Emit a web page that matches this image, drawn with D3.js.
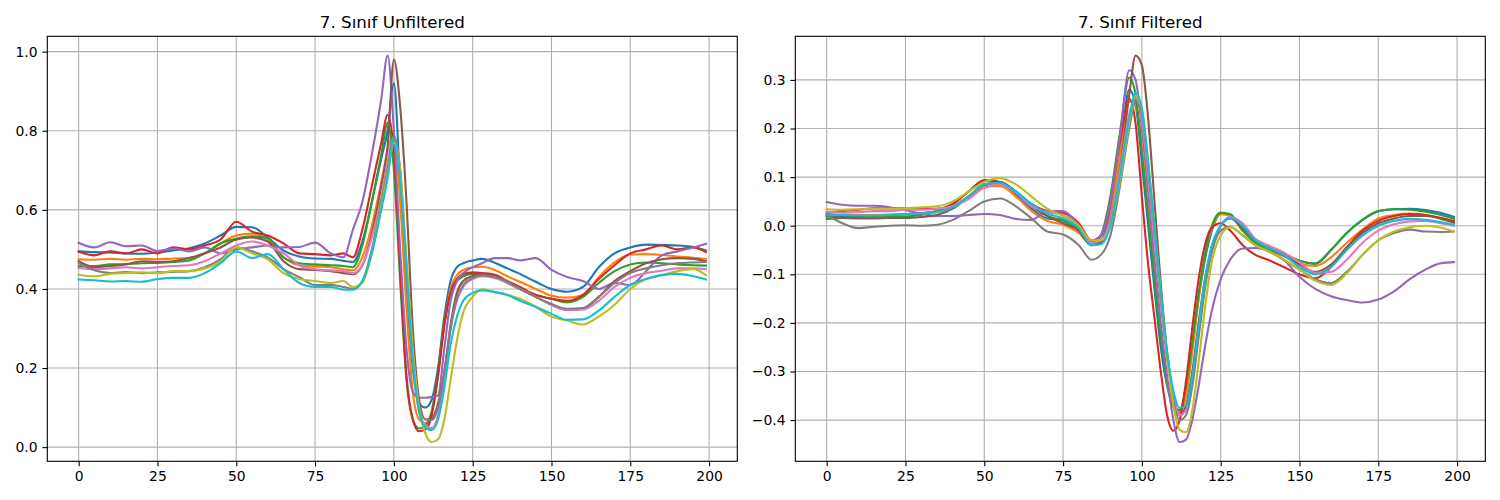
<!DOCTYPE html>
<html>
<head>
<meta charset="utf-8">
<script src="https://cdn.jsdelivr.net/npm/d3@7"></script>
<style>
  body { margin: 0; background: #fff; }
  svg { font-family: "DejaVu Sans", sans-serif; }
</style>
</head>
<body>
<svg id="chart" width="1500" height="500"></svg>
<script>
var samples = [0,5,10,15,20,25,30,35,40,45,50,55,60,65,70,75,80,84,87,90,93,96,98,100,102,104,106,108,110,112,114,116,118,120,122,125,128,132,136,140,145,150,155,160,165,170,175,180,185,190,195,199];

var xTicks = [0, 25, 50, 75, 100, 125, 150, 175, 200];
var unfTicks = [0.0, 0.2, 0.4, 0.6, 0.8, 1.0];
var filtTicks = [-0.4, -0.3, -0.2, -0.1, 0.0, 0.1, 0.2, 0.3];
var titles = ["7. Sınıf Unfiltered", "7. Sınıf Filtered"];
var colors = ["#1f77b4","#ff7f0e","#2ca02c","#d62728","#9467bd","#8c564b","#e377c2","#7f7f7f","#bcbd22","#17becf"];

// unfiltered beats
var unf1 = [0.495,0.493,0.492,0.490,0.489,0.492,0.497,0.503,0.515,0.535,0.557,0.556,0.530,0.497,0.482,0.477,0.476,0.471,0.468,0.52,0.62,0.73,0.80,0.92,0.66,0.40,0.20,0.11,0.10,0.12,0.20,0.33,0.42,0.455,0.465,0.472,0.476,0.466,0.452,0.438,0.418,0.400,0.393,0.405,0.455,0.490,0.505,0.512,0.511,0.510,0.506,0.497];
var unf2 = [0.475,0.474,0.476,0.474,0.476,0.475,0.477,0.478,0.49,0.515,0.535,0.54,0.525,0.48,0.46,0.457,0.455,0.45,0.447,0.48,0.56,0.67,0.75,0.79,0.62,0.35,0.14,0.07,0.06,0.09,0.18,0.31,0.40,0.435,0.448,0.455,0.456,0.448,0.432,0.418,0.40,0.383,0.378,0.385,0.43,0.467,0.487,0.488,0.486,0.482,0.479,0.476];
var unf3 = [0.457,0.458,0.462,0.463,0.465,0.466,0.468,0.472,0.49,0.515,0.527,0.533,0.528,0.48,0.465,0.462,0.46,0.458,0.455,0.51,0.62,0.74,0.82,0.70,0.42,0.17,0.07,0.047,0.055,0.09,0.19,0.31,0.39,0.42,0.432,0.438,0.436,0.43,0.415,0.40,0.385,0.375,0.366,0.38,0.415,0.445,0.462,0.467,0.465,0.462,0.46,0.459];
var unf4 = [0.494,0.485,0.495,0.49,0.50,0.49,0.505,0.50,0.51,0.525,0.57,0.545,0.535,0.515,0.49,0.488,0.485,0.49,0.48,0.55,0.66,0.77,0.84,0.75,0.45,0.18,0.07,0.04,0.045,0.08,0.18,0.31,0.39,0.425,0.438,0.442,0.44,0.436,0.42,0.405,0.385,0.375,0.37,0.385,0.425,0.46,0.49,0.50,0.51,0.50,0.505,0.493];
var unf5 = [0.517,0.505,0.518,0.508,0.51,0.496,0.502,0.495,0.505,0.49,0.50,0.505,0.51,0.505,0.506,0.517,0.49,0.48,0.55,0.62,0.74,0.88,0.99,0.80,0.50,0.25,0.14,0.125,0.125,0.127,0.13,0.25,0.37,0.42,0.44,0.455,0.465,0.478,0.478,0.472,0.478,0.448,0.43,0.42,0.40,0.415,0.41,0.445,0.485,0.495,0.505,0.514];
var unf6 = [0.47,0.455,0.458,0.462,0.47,0.468,0.47,0.478,0.49,0.505,0.525,0.53,0.52,0.47,0.45,0.448,0.445,0.44,0.437,0.46,0.54,0.66,0.76,0.98,0.86,0.62,0.30,0.12,0.07,0.072,0.11,0.19,0.31,0.39,0.42,0.433,0.438,0.432,0.418,0.40,0.38,0.36,0.347,0.35,0.38,0.42,0.445,0.465,0.475,0.478,0.476,0.47];
var unf7 = [0.453,0.45,0.452,0.455,0.452,0.455,0.458,0.46,0.47,0.49,0.51,0.52,0.51,0.49,0.46,0.45,0.447,0.445,0.44,0.46,0.53,0.63,0.72,0.785,0.70,0.45,0.22,0.09,0.055,0.048,0.08,0.18,0.30,0.37,0.405,0.425,0.432,0.428,0.415,0.40,0.38,0.36,0.347,0.348,0.37,0.405,0.428,0.44,0.446,0.452,0.452,0.45];
var unf8 = [0.465,0.447,0.44,0.443,0.44,0.442,0.443,0.445,0.455,0.475,0.505,0.495,0.48,0.45,0.43,0.41,0.41,0.405,0.40,0.42,0.50,0.62,0.70,0.785,0.70,0.45,0.22,0.10,0.07,0.068,0.10,0.19,0.30,0.375,0.41,0.428,0.434,0.43,0.418,0.40,0.38,0.362,0.35,0.352,0.38,0.415,0.44,0.452,0.46,0.465,0.467,0.468];
var unf9 = [0.436,0.432,0.438,0.44,0.442,0.44,0.445,0.445,0.452,0.47,0.505,0.49,0.475,0.44,0.425,0.42,0.415,0.42,0.405,0.415,0.49,0.61,0.69,0.77,0.70,0.48,0.25,0.10,0.035,0.013,0.02,0.07,0.17,0.27,0.34,0.38,0.40,0.392,0.385,0.375,0.355,0.33,0.32,0.31,0.33,0.36,0.40,0.425,0.435,0.445,0.45,0.435];
var unf10 = [0.424,0.422,0.419,0.42,0.418,0.425,0.428,0.428,0.44,0.465,0.495,0.478,0.488,0.45,0.415,0.405,0.405,0.398,0.398,0.42,0.49,0.60,0.68,0.78,0.68,0.45,0.22,0.09,0.05,0.043,0.07,0.15,0.26,0.33,0.37,0.39,0.396,0.392,0.385,0.37,0.355,0.337,0.322,0.323,0.345,0.38,0.41,0.425,0.435,0.438,0.432,0.424];

// filtered beats
var filt1 = [0.021,0.02,0.02,0.021,0.022,0.024,0.026,0.03,0.04,0.06,0.083,0.087,0.065,0.035,0.015,0.012,-0.005,-0.035,-0.03,0.03,0.14,0.28,0.25,0.13,0.0,-0.13,-0.25,-0.33,-0.37,-0.38,-0.34,-0.25,-0.15,-0.07,-0.015,0.024,0.022,-0.01,-0.035,-0.045,-0.058,-0.072,-0.078,-0.05,-0.015,0.012,0.03,0.034,0.035,0.032,0.026,0.018];
var filt2 = [0.023,0.022,0.022,0.022,0.023,0.023,0.025,0.03,0.04,0.06,0.08,0.082,0.06,0.03,0.01,0.002,-0.015,-0.04,-0.035,0.02,0.14,0.255,0.25,0.16,0.03,-0.10,-0.22,-0.32,-0.375,-0.385,-0.35,-0.26,-0.15,-0.06,-0.01,0.024,0.02,-0.01,-0.035,-0.048,-0.062,-0.078,-0.083,-0.065,-0.035,-0.008,0.015,0.022,0.025,0.022,0.015,0.009];
var filt3 = [0.014,0.016,0.017,0.018,0.019,0.019,0.022,0.03,0.045,0.07,0.094,0.09,0.07,0.04,0.02,0.01,-0.01,-0.04,-0.02,0.06,0.19,0.305,0.27,0.15,0.02,-0.11,-0.23,-0.32,-0.37,-0.38,-0.33,-0.24,-0.14,-0.06,-0.005,0.027,0.024,-0.01,-0.035,-0.048,-0.06,-0.072,-0.078,-0.05,-0.015,0.012,0.03,0.034,0.033,0.029,0.022,0.014];
var filt4 = [0.026,0.03,0.033,0.036,0.036,0.036,0.035,0.035,0.045,0.07,0.093,0.09,0.07,0.045,0.03,0.026,0.005,-0.03,-0.02,0.05,0.17,0.261,0.21,0.06,-0.08,-0.19,-0.30,-0.39,-0.422,-0.40,-0.32,-0.21,-0.11,-0.04,-0.005,0.005,-0.01,-0.04,-0.06,-0.07,-0.085,-0.10,-0.108,-0.085,-0.045,-0.01,0.01,0.02,0.024,0.022,0.016,0.009];
var filt5 = [0.049,0.043,0.041,0.041,0.038,0.032,0.025,0.02,0.02,0.022,0.024,0.022,0.014,0.012,0.03,0.03,0.0,-0.032,-0.02,0.05,0.18,0.32,0.30,0.20,0.07,-0.07,-0.20,-0.31,-0.40,-0.445,-0.44,-0.40,-0.33,-0.25,-0.18,-0.11,-0.07,-0.047,-0.046,-0.052,-0.07,-0.105,-0.13,-0.145,-0.153,-0.158,-0.152,-0.135,-0.11,-0.09,-0.077,-0.075];
var filt6 = [0.019,0.016,0.015,0.015,0.016,0.016,0.018,0.022,0.035,0.06,0.085,0.09,0.07,0.04,0.02,0.005,-0.01,-0.04,-0.035,0.01,0.11,0.27,0.35,0.33,0.22,0.05,-0.12,-0.26,-0.35,-0.39,-0.37,-0.30,-0.20,-0.11,-0.05,0.0,0.015,-0.005,-0.03,-0.045,-0.062,-0.08,-0.095,-0.08,-0.045,-0.015,0.005,0.015,0.02,0.02,0.014,0.006];
var filt7 = [0.029,0.027,0.028,0.03,0.03,0.033,0.033,0.035,0.04,0.055,0.078,0.085,0.068,0.04,0.028,0.022,0.0,-0.035,-0.03,0.01,0.11,0.23,0.264,0.22,0.10,-0.03,-0.16,-0.27,-0.35,-0.39,-0.38,-0.32,-0.22,-0.12,-0.05,0.0,0.018,0.005,-0.027,-0.04,-0.055,-0.075,-0.097,-0.095,-0.07,-0.035,-0.01,0.003,0.009,0.01,0.005,0.0];
var filt8 = [0.023,0.005,-0.005,-0.002,0.0,0.001,0.0,0.002,0.012,0.03,0.05,0.056,0.04,0.015,-0.012,-0.018,-0.04,-0.07,-0.06,-0.02,0.08,0.20,0.255,0.23,0.12,-0.01,-0.15,-0.27,-0.36,-0.40,-0.39,-0.33,-0.23,-0.13,-0.06,-0.01,-0.002,-0.02,-0.04,-0.052,-0.07,-0.09,-0.11,-0.118,-0.095,-0.06,-0.03,-0.015,-0.008,-0.012,-0.013,-0.012];
var filt9 = [0.034,0.033,0.034,0.035,0.035,0.036,0.038,0.04,0.05,0.07,0.09,0.098,0.085,0.06,0.035,0.02,0.0,-0.03,-0.03,0.0,0.09,0.21,0.268,0.24,0.13,0.0,-0.14,-0.27,-0.37,-0.42,-0.425,-0.38,-0.28,-0.17,-0.08,-0.02,-0.003,-0.02,-0.04,-0.052,-0.07,-0.09,-0.113,-0.122,-0.098,-0.06,-0.03,-0.012,-0.003,0.0,-0.004,-0.012];
var filt10 = [0.023,0.022,0.021,0.021,0.022,0.024,0.025,0.028,0.038,0.06,0.085,0.088,0.07,0.045,0.025,0.015,-0.005,-0.04,-0.038,0.0,0.10,0.22,0.273,0.24,0.13,0.0,-0.14,-0.26,-0.34,-0.375,-0.37,-0.31,-0.21,-0.11,-0.045,0.0,0.016,0.0,-0.03,-0.045,-0.06,-0.085,-0.10,-0.085,-0.05,-0.02,0.0,0.01,0.014,0.012,0.007,0.002];

var unfSeries = [unf1, unf2, unf3, unf4, unf5, unf6, unf7, unf8, unf9, unf10];
var filtSeries = [filt1, filt2, filt3, filt4, filt5, filt6, filt7, filt8, filt9, filt10];

var svg = d3.select("#chart");

var panels = [
    {left: 47.3, series: unfSeries, ticks: unfTicks, title: titles[0]},
    {left: 795.3, series: filtSeries, ticks: filtTicks, title: titles[1]}
];
var plotTop = 36.3, plotW = 690, plotH = 425;

panels.forEach(function(p) {
    var g = svg.append("g").attr("transform", "translate(" + p.left + "," + plotTop + ")");

    // matplotlib style 5% margins
    var xs = d3.scaleLinear().domain([-9.95, 208.95]).range([0, plotW]);
    var all = d3.merge(p.series);
    var lo = d3.min(all), hi = d3.max(all), pad = (hi - lo) * 0.05;
    var ys = d3.scaleLinear().domain([lo - pad, hi + pad]).range([plotH, 0]);

    // grid
    g.append("g").selectAll("line").data(xTicks).join("line")
        .attr("x1", d => xs(d)).attr("x2", d => xs(d))
        .attr("y1", 0).attr("y2", plotH)
        .attr("stroke", "#b0b0b0").attr("stroke-width", 1.1);
    g.append("g").selectAll("line").data(p.ticks).join("line")
        .attr("x1", 0).attr("x2", plotW)
        .attr("y1", d => ys(d)).attr("y2", d => ys(d))
        .attr("stroke", "#b0b0b0").attr("stroke-width", 1.1);

    var line = d3.line()
        .x(function(d, i) { return xs(samples[i]); })
        .y(function(d) { return ys(d); })
        .curve(d3.curveMonotoneX);

    g.append("g").selectAll("path").data(p.series).join("path")
        .attr("d", line)
        .attr("fill", "none")
        .attr("stroke", (d, i) => colors[i])
        .attr("stroke-width", 2.1)
        .attr("stroke-linejoin", "round")
        .attr("stroke-linecap", "square");

    var xAxis = d3.axisBottom(xs).tickValues(xTicks).tickSize(4.9).tickPadding(4.9).tickFormat(d3.format("d"));
    var yAxis = d3.axisLeft(ys).tickValues(p.ticks).tickSize(4.9).tickPadding(4.9).tickFormat(d3.format(".1f"));

    var xa = g.append("g").attr("transform", "translate(0," + plotH + ")").call(xAxis);
    var ya = g.append("g").call(yAxis);
    [xa, ya].forEach(function(a) {
        a.select(".domain").remove();
        a.selectAll("line").attr("stroke", "#000").attr("stroke-width", 1.1);
        a.selectAll("text").attr("font-size", "13.9px").attr("fill", "#000")
            .attr("font-family", "DejaVu Sans, sans-serif");
    });

    // spines
    g.append("rect").attr("x", 0).attr("y", 0).attr("width", plotW).attr("height", plotH)
        .attr("fill", "none").attr("stroke", "#000").attr("stroke-width", 1.1);

    g.append("text")
        .attr("x", plotW / 2).attr("y", -8.5)
        .attr("text-anchor", "middle")
        .attr("font-size", "16.7px")
        .attr("fill", "#000")
        .text(p.title);
});
</script>
</body>
</html>
